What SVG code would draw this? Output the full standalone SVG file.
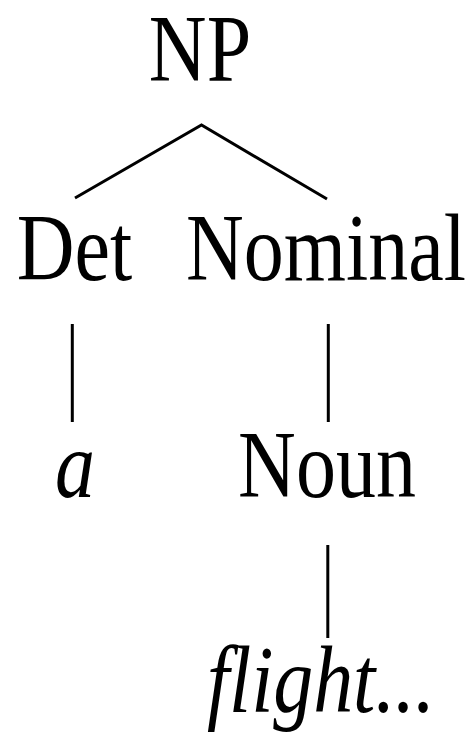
<svg xmlns="http://www.w3.org/2000/svg" width="471" height="733" viewBox="0 0 471 733">
<style>
.t{font-family:"Liberation Serif","Times New Roman",serif;font-size:80px;fill:#000;text-anchor:middle}
.i{font-style:italic}
.e{stroke:#000;stroke-width:3;fill:none;stroke-linecap:butt}
</style>
<rect width="471" height="733" fill="#fff"/>
<g id="connectors">
<polyline class="e" points="75,198 201.5,125 327,199"/>
<line class="e" x1="72.3" y1="324" x2="72.3" y2="422"/>
<line class="e" x1="328.3" y1="324" x2="328.3" y2="422"/>
<line class="e" x1="327.8" y1="545" x2="327.8" y2="638"/>
</g>
<g transform="scale(1,1.2)">
<g id="NP"><text class="t" x="200" y="67.5">NP</text></g>
<g id="Det"><text class="t" x="74.5" y="233.3">Det</text></g>
<g id="Nominal"><text class="t" x="326" y="233.3">Nominal</text></g>
<g id="a"><text class="t i" x="75" y="414.2">a</text></g>
<g id="Noun"><text class="t" x="327" y="414.2">Noun</text></g>
<g id="flight"><text class="t i" x="321" y="593.3" textLength="228" lengthAdjust="spacing">flight...</text></g>
</g>
</svg>
